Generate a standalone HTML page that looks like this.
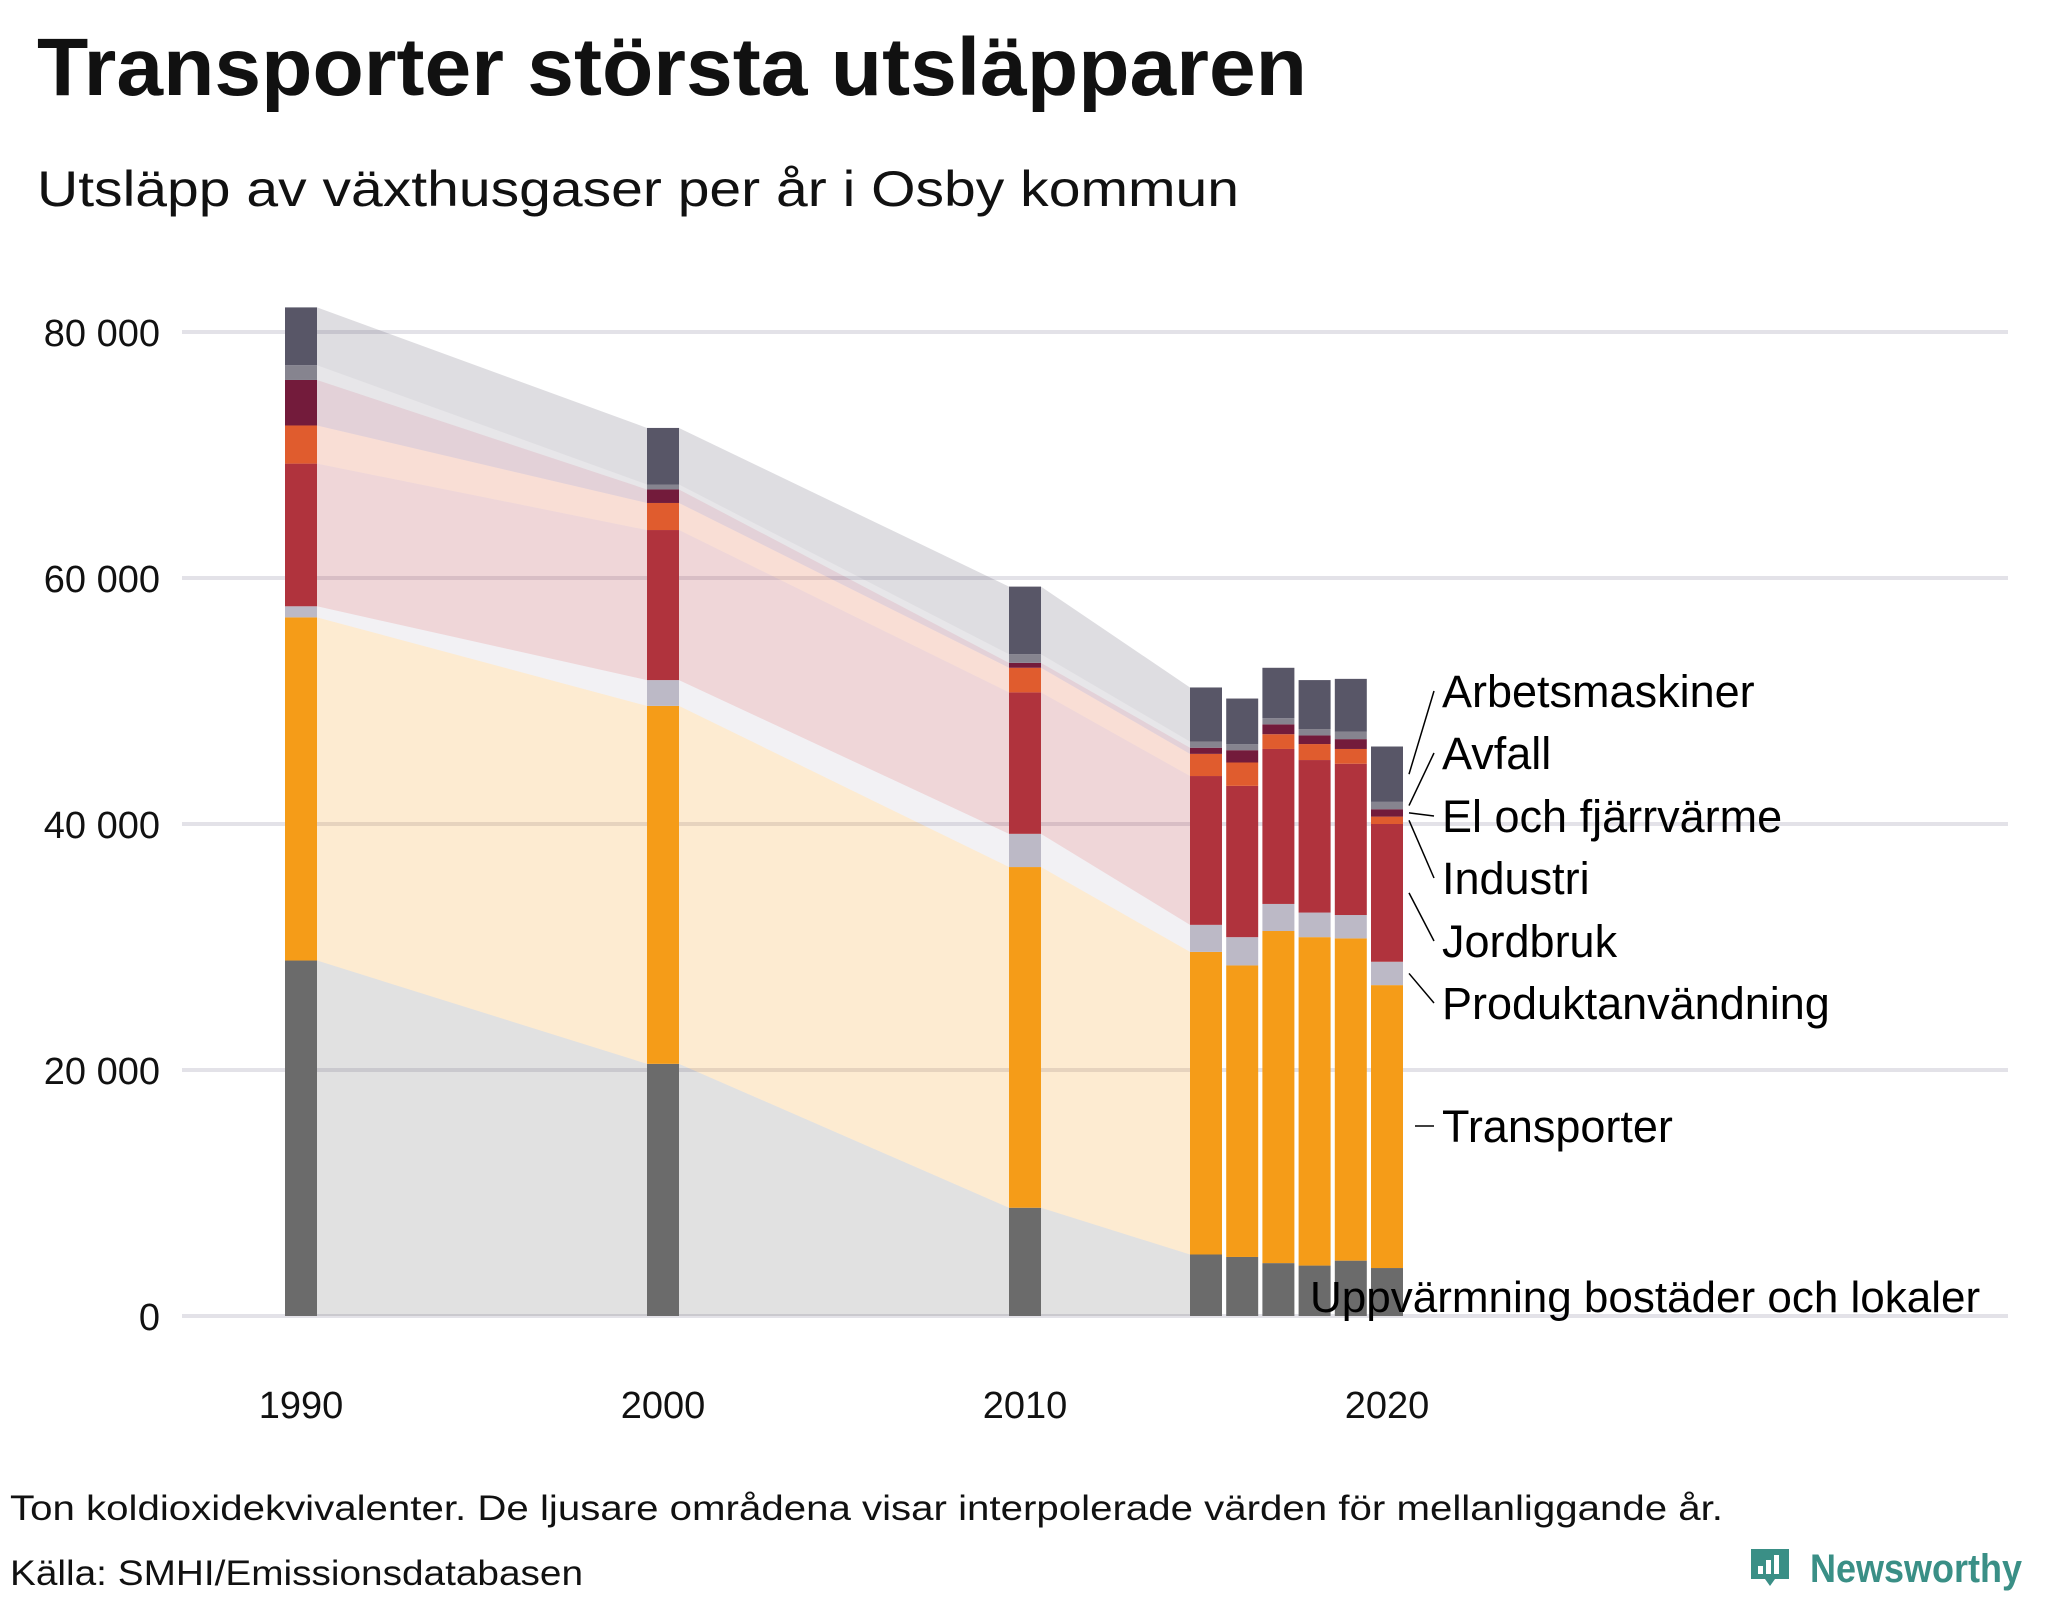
<!DOCTYPE html>
<html><head><meta charset="utf-8"><style>
html,body{margin:0;padding:0;background:#fff;}
svg{display:block;}
</style></head><body>
<svg id="chart" width="2048" height="1600" viewBox="0 0 2048 1600" xmlns="http://www.w3.org/2000/svg" font-family="'Liberation Sans', sans-serif">
<text x="37" y="95" font-size="82" font-weight="bold" fill="#111" textLength="1270" lengthAdjust="spacingAndGlyphs">Transporter största utsläpparen</text>
<text x="37" y="206" font-size="50" fill="#111" textLength="1202" lengthAdjust="spacingAndGlyphs">Utsläpp av växthusgaser per år i Osby kommun</text>
<g id="grid"></g>
<g id="areas"></g>
<g id="bars"></g>
<g id="yaxis"></g>
<g id="xaxis"></g>
<g id="labels"></g>
<text x="10" y="1520" font-size="35" fill="#111" textLength="1713" lengthAdjust="spacingAndGlyphs">Ton koldioxidekvivalenter. De ljusare områdena visar interpolerade värden för mellanliggande år.</text>
<text x="10" y="1585" font-size="35" fill="#111" textLength="573" lengthAdjust="spacingAndGlyphs">Källa: SMHI/Emissionsdatabasen</text>
<g>
<path d="M1751 1549 h38 v30 h-14 l-5 7 l-5 -7 h-14 z" fill="#3a8f86"/>
<rect x="1758" y="1566" width="5" height="8" fill="#fff"/>
<rect x="1766" y="1560" width="5" height="14" fill="#fff"/>
<rect x="1774" y="1555" width="5" height="19" fill="#fff"/>
<text x="1810" y="1582" font-size="40" font-weight="bold" fill="#3a8f86" textLength="212" lengthAdjust="spacingAndGlyphs">Newsworthy</text>
</g>
</svg>
<script>
const years = [1990, 2000, 2010, 2015, 2016, 2017, 2018, 2019, 2020];
const uppvarmning = [28.9, 20.5, 8.8, 5.0, 4.8, 4.3, 4.1, 4.5, 3.9];
const transporter = [27.9, 29.1, 27.7, 24.6, 23.7, 27.0, 26.7, 26.2, 23.0];
const produktanvandning = [0.9, 2.1, 2.7, 2.2, 2.3, 2.2, 2.0, 1.9, 1.9];
const jordbruk = [11.6, 12.2, 11.5, 12.1, 12.3, 12.6, 12.4, 12.3, 11.2];
const industri = [3.1, 2.2, 2.0, 1.8, 1.9, 1.2, 1.3, 1.2, 0.6];
const elFjarrvarme = [3.7, 1.1, 0.4, 0.5, 1.0, 0.8, 0.7, 0.8, 0.6];
const avfall = [1.2, 0.4, 0.7, 0.5, 0.5, 0.5, 0.5, 0.6, 0.6];
const arbetsmaskiner = [4.7, 4.6, 5.5, 4.4, 3.7, 4.1, 4.0, 4.3, 4.5];
const seriesNames = ["Uppvärmning bostäder och lokaler","Transporter","Produktanvändning","Jordbruk","Industri","El och fjärrvärme","Avfall","Arbetsmaskiner"];
const yTicks = [0, 20, 40, 60, 80];
const yTickLabels = ["0", "20 000", "40 000", "60 000", "80 000"];
const xTicks = [1990, 2000, 2010, 2020];

const series = [uppvarmning, transporter, produktanvandning, jordbruk, industri, elFjarrvarme, avfall, arbetsmaskiner];
const colors = ["#6b6b6b","#f59c18","#bcb9c6","#b0333d","#e05c2e","#731b3b","#86848f","#585667"];
const slugs = ["uppvarmning","transporter","produktanvandning","jordbruk","industri","el-fjarrvarme","avfall","arbetsmaskiner"];
const NS = "http://www.w3.org/2000/svg";
const xScale = y => 301 + (y - 1990) * 36.2;
const yScale = v => 1316 - v * 12.3;
const BW = 32;
function mk(tag, attrs, parent){ const e=document.createElementNS(NS,tag); for(const k in attrs) e.setAttribute(k,attrs[k]); parent.appendChild(e); return e; }

const grid=document.getElementById('grid'), yaxis=document.getElementById('yaxis');
yTicks.forEach((t,i)=>{
  const g=mk('line',{x1:182,x2:2008,y1:yScale(t),y2:yScale(t),stroke:'#e3e2e8','stroke-width':4},grid);
  
  
  const tx=mk('text',{x:160,y:yScale(t)+14,'text-anchor':'end','font-size':38,fill:'#111'},yaxis);
  tx.textContent=yTickLabels[i];
  
  
});
const xaxis=document.getElementById('xaxis');
xTicks.forEach(t=>{
  const tx=mk('text',{x:xScale(t),y:1418,'text-anchor':'middle','font-size':38,fill:'#111'},xaxis);
  tx.textContent=String(t);
  
  
});

const base = years.map(()=>0);
const stacks = series.map(s=>{ const lo=base.slice(); s.forEach((v,i)=>base[i]+=v); return {lo, hi: base.slice()}; });

const areas=document.getElementById('areas'), bars=document.getElementById('bars');
stacks.forEach((st,k)=>{
  for(let i=0;i<years.length-1;i++){
    const xa=xScale(years[i])+BW/2, xb=xScale(years[i+1])-BW/2;
    if(xb-xa<=6) continue;
    const p=mk('polygon',{points:`${xa},${yScale(st.hi[i])} ${xb},${yScale(st.hi[i+1])} ${xb},${yScale(st.lo[i+1])} ${xa},${yScale(st.lo[i])}`,fill:colors[k],'fill-opacity':0.2},areas);
    
    
  }
  years.forEach((y,i)=>{
    const r=mk('rect',{x:xScale(y)-BW/2,y:yScale(st.hi[i]),width:BW,height:yScale(st.lo[i])-yScale(st.hi[i]),fill:colors[k]},bars);
    
    
  });
});

const labels=document.getElementById('labels');
const last=years.length-1;
const labelY=[1312,1142,1019,957,894,832,769,707];
const lx=xScale(years[last])+BW/2;
stacks.forEach((st,k)=>{
  if(k===0){
    const t=mk('text',{x:1310,y:labelY[0],'font-size':44,fill:'#000'},labels);
    t.textContent=seriesNames[0];
    
    
    return;
  }
  const mid=yScale((st.lo[last]+st.hi[last])/2);
  const ty=labelY[k]-16;
  const l=mk('line',{x1:k===1?lx+12:lx+6,y1:k===1?ty:mid,x2:1434,y2:ty,stroke:'#000','stroke-width':1.5},labels);
  
  
  const t=mk('text',{x:1442,y:labelY[k],'font-size':45,fill:'#000'},labels);
  t.textContent=seriesNames[k];
  
  
});
</script>
</body></html>
